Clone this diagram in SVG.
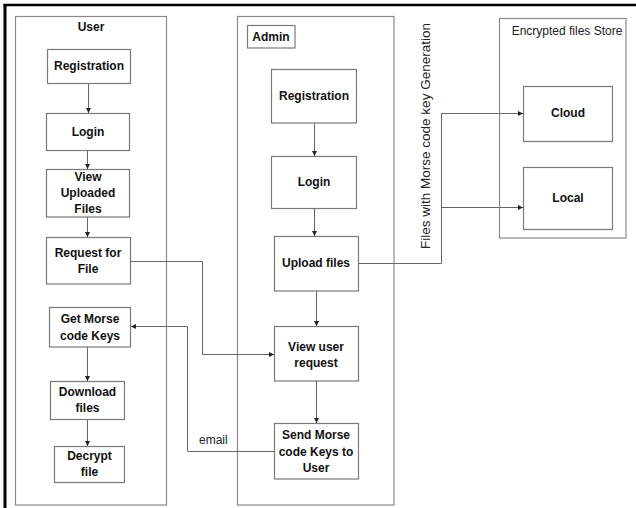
<svg xmlns="http://www.w3.org/2000/svg" width="636" height="508" viewBox="0 0 636 508">
<style>
.lane{fill:none;stroke:#8a8a8a;stroke-width:1.2}
.box{fill:#fff;stroke:#7a7a7a;stroke-width:1.2}
.t{font-family:"Liberation Sans",Arial,sans-serif;font-size:12px;font-weight:bold;fill:#111;text-anchor:middle}
.n{font-family:"Liberation Sans",Arial,sans-serif;font-size:12px;fill:#222}
.c{fill:none;stroke:#666;stroke-width:1}
</style>
<defs>
<marker id="ah" viewBox="0 0 8 8" refX="8" refY="4" markerWidth="5" markerHeight="5" orient="auto" markerUnits="userSpaceOnUse">
<path d="M0,0 L8,4 L0,8 z" fill="#222"/>
</marker>
</defs>
<rect width="636" height="508" fill="#fff"/>
<g id="frame">
<line x1="3.5" y1="5" x2="636" y2="5" stroke="#000" stroke-width="2.5"/>
<line x1="5" y1="4" x2="5" y2="508" stroke="#000" stroke-width="3"/>
</g>
<g id="lane-user">
<rect class="lane" x="15.5" y="16.5" width="151" height="488.5"/>
<text class="t" x="91" y="31">User</text>
</g>
<g id="lane-admin">
<rect class="lane" x="237.5" y="16.5" width="156.5" height="488.5"/>
<rect class="box" x="247.5" y="25.5" width="47.5" height="22.5"/>
<text class="t" x="271" y="41">Admin</text>
</g>
<g id="lane-store">
<rect class="lane" x="499.5" y="18.5" width="126.5" height="219.5"/>
<text class="n" x="567" y="35" text-anchor="middle" style="font-size:12px">Encrypted files Store</text>
</g>
<g id="u-registration"><rect class="box" x="47.5" y="49.5" width="83" height="34"/><text class="t" x="89" y="70">Registration</text></g>
<g id="u-login"><rect class="box" x="46.5" y="113.5" width="83" height="37"/><text class="t" x="88" y="136">Login</text></g>
<g id="u-view"><rect class="box" x="46.5" y="169.5" width="83" height="47.5"/><text class="t" x="88" y="181">View</text><text class="t" x="88" y="197">Uploaded</text><text class="t" x="88" y="213">Files</text></g>
<g id="u-request"><rect class="box" x="46.5" y="237.5" width="84" height="46.5"/><text class="t" x="88" y="257">Request for</text><text class="t" x="88" y="273">File</text></g>
<g id="u-getkeys"><rect class="box" x="49.5" y="307.5" width="81" height="39.5"/><text class="t" x="90" y="323">Get Morse</text><text class="t" x="90" y="340">code Keys</text></g>
<g id="u-download"><rect class="box" x="50.5" y="381.5" width="74" height="38"/><text class="t" x="87.5" y="396">Download</text><text class="t" x="87.5" y="412">files</text></g>
<g id="u-decrypt"><rect class="box" x="54.5" y="446.5" width="70" height="36"/><text class="t" x="89.5" y="460">Decrypt</text><text class="t" x="89.5" y="476">file</text></g>
<g id="a-registration"><rect class="box" x="271.5" y="69.5" width="85" height="53.5"/><text class="t" x="314" y="100">Registration</text></g>
<g id="a-login"><rect class="box" x="271.5" y="156.5" width="85" height="52"/><text class="t" x="314" y="186">Login</text></g>
<g id="a-upload"><rect class="box" x="274.5" y="236.5" width="84" height="54.5"/><text class="t" x="316" y="267">Upload files</text></g>
<g id="a-viewreq"><rect class="box" x="274.5" y="326.5" width="84" height="54.5"/><text class="t" x="316" y="351">View user</text><text class="t" x="316" y="367">request</text></g>
<g id="a-send"><rect class="box" x="274.5" y="423.5" width="84" height="55.5"/><text class="t" x="316" y="439">Send Morse</text><text class="t" x="316" y="456">code Keys to</text><text class="t" x="316" y="472">User</text></g>
<g id="s-cloud"><rect class="box" x="523.5" y="86.5" width="89" height="55"/><text class="t" x="568" y="117">Cloud</text></g>
<g id="s-local"><rect class="box" x="523.5" y="167.5" width="89" height="62"/><text class="t" x="568" y="202">Local</text></g>
<g id="connectors">
<path class="c" d="M88.5,83.5 V113" marker-end="url(#ah)"/>
<path class="c" d="M87.5,150.5 V169" marker-end="url(#ah)"/>
<path class="c" d="M87.5,217 V237" marker-end="url(#ah)"/>
<path class="c" d="M87.5,347 V381" marker-end="url(#ah)"/>
<path class="c" d="M87.5,419.5 V446" marker-end="url(#ah)"/>
<path class="c" d="M314.5,123 V156" marker-end="url(#ah)"/>
<path class="c" d="M314.5,208.5 V236" marker-end="url(#ah)"/>
<path class="c" d="M316.5,291 V326" marker-end="url(#ah)"/>
<path class="c" d="M316.5,381 V423" marker-end="url(#ah)"/>
<path class="c" d="M130.5,261.5 H202.5 V354.5 H274" marker-end="url(#ah)"/>
<path class="c" d="M274.5,451.5 H187.5 V326.5 H131" marker-end="url(#ah)"/>
<path class="c" d="M358.5,263.5 H441.5 V113.5 H523" marker-end="url(#ah)"/>
<path class="c" d="M441.5,207.5 H523" marker-end="url(#ah)"/>
<text class="n" x="199" y="444">email</text>
<text class="n" transform="translate(430,136) rotate(-90)" text-anchor="middle" style="font-size:13.5px">Files with Morse code key Generation</text>
</g>
</svg>
